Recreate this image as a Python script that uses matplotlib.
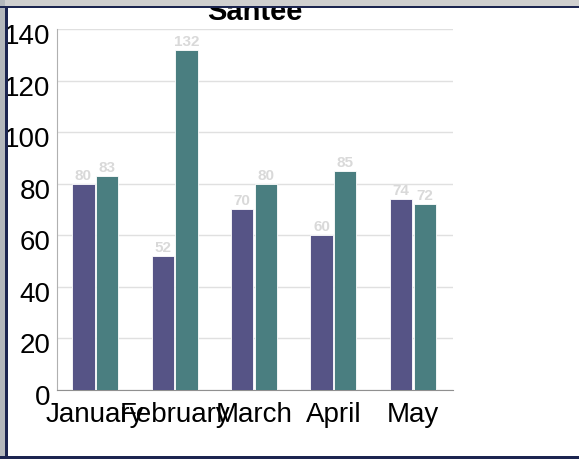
import numpy as np
import matplotlib.pyplot as plt
import matplotlib.transforms as mtransforms
from matplotlib.patches import Rectangle

months = ["January", "February", "March", "April", "May"]
series_a = [80, 52, 70, 60, 74]
series_b = [83, 132, 80, 85, 72]
yticks = [0, 20, 40, 60, 80, 100, 120, 140]

plt.rcParams['font.family'] = ['Liberation Sans', 'DejaVu Sans']

fig = plt.figure(figsize=(5.79, 4.60), dpi=100)
fig.patch.set_facecolor("white")

# screenshot frame: grey bands + navy border
fig.add_artist(Rectangle((0, 1 - 7/460), 1, 7/460, transform=fig.transFigure,
                         facecolor="#cfcfcf", edgecolor="none", zorder=5))
fig.add_artist(Rectangle((0, 0), 5/579, 1, transform=fig.transFigure,
                         facecolor="#b4b8bc", edgecolor="none", zorder=5))
fig.add_artist(Rectangle((0, 1 - 9/460), 1, 2.5/460, transform=fig.transFigure,
                         facecolor="#1c2550", edgecolor="none", zorder=6))
fig.add_artist(Rectangle((5/579, 0), 2.5/579, 1 - 7/460, transform=fig.transFigure,
                         facecolor="#1c2550", edgecolor="none", zorder=6))
fig.add_artist(Rectangle((0, 0), 1, 3/460, transform=fig.transFigure,
                         facecolor="#1c2550", edgecolor="none", zorder=6))

ax = fig.add_axes([0.0988, 0.15, 0.684, 0.7848])

x = np.arange(len(months))
w = 0.28
b1 = ax.bar(x - w/2 - 0.01, series_a, w, color="#565486", edgecolor="white", linewidth=0.6, zorder=3)
b2 = ax.bar(x + w/2 + 0.01, series_b, w, color="#4a7e80", edgecolor="white", linewidth=0.6, zorder=3)

for bars in (b1, b2):
    for r in bars:
        ax.text(r.get_x() + r.get_width()/2, r.get_height() + 0.8, str(int(r.get_height())),
                ha="center", va="bottom", fontsize=11, fontweight="bold", color="#d9d9d9", zorder=4)

ax.set_xlim(-0.48, 4.51)
ax.set_ylim(0, 140)
ax.set_yticks(yticks)
ax.set_yticklabels([str(v) for v in yticks])
ax.set_xticks(x)
ax.set_xticklabels(months)
ax.tick_params(axis="both", length=0, labelsize=20, colors="black")
ax.tick_params(axis="y", pad=5)
ax.tick_params(axis="x", pad=8)
# y labels sit a little below their gridlines in the original
off = mtransforms.ScaledTranslation(0, -4/100, fig.dpi_scale_trans)
for lab in ax.get_yticklabels():
    lab.set_transform(lab.get_transform() + off)
ax.grid(axis="y", color="#e0e0e0", linewidth=1, zorder=0)
for s in ["top", "right"]:
    ax.spines[s].set_visible(False)
ax.spines["left"].set_color("#b0b0b0")
ax.spines["bottom"].set_color("#909090")

ax.set_title("Santee", fontsize=21, fontweight="bold", pad=7)

plt.savefig("out.png", dpi=100)
